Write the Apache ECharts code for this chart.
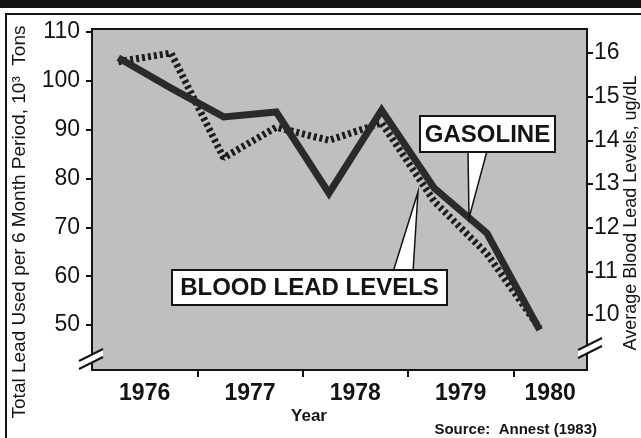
<!DOCTYPE html>
<html>
<head>
<meta charset="utf-8">
<script src="https://cdn.jsdelivr.net/npm/echarts@6/dist/echarts.min.js"></script>
<style>
  html, body { margin: 0; padding: 0; background: #fff; }
  #chart { width: 641px; height: 438px; }
</style>
</head>
<body>
<div id="chart"></div>
<script>
// half-year periods, plotted at the middle of each half
const periods = [1976.25, 1976.75, 1977.25, 1977.75, 1978.25, 1978.75, 1979.25, 1979.75, 1980.25]
// total lead used in gasoline, 10^3 tons per 6 months
const gasoline = [104.7, 98.5, 92.6, 93.6, 77.0, 94.0, 78.0, 68.8, 49.0]
// average blood lead, ug/dL
const bloodLead = [15.8, 16.0, 13.6, 14.3, 14.0, 14.4, 12.6, 11.4, 9.7]

const years = [1976, 1977, 1978, 1979, 1980]
const yearTicks = [1977, 1978, 1979, 1980]
const leadTicks = [50, 60, 70, 80, 90, 100, 110]
const bloodTicks = [10, 11, 12, 13, 14, 15, 16]

const X_MIN = 1976
const X_MAX = 1980.7
const FONT = '"Liberation Sans", Arial, Helvetica, sans-serif'
const INK = '#141414'

// year labels sit in the middle of each year band
const yearLabelPos = years.map(y => (y + Math.min(y + 1, X_MAX)) / 2)

const chart = echarts.init(document.getElementById('chart'))

// small helper for the "//" axis break marks
const breakMark = (x, y) => [
  { type: 'polygon', z: 120, shape: { points: [[x, y + 4], [x + 24, y - 8], [x + 24, y], [x, y + 12]] }, style: { fill: '#fff' } },
  { type: 'line', z: 121, shape: { x1: x, y1: y + 4, x2: x + 24, y2: y - 8 }, style: { stroke: INK, lineWidth: 2 } },
  { type: 'line', z: 121, shape: { x1: x, y1: y + 12, x2: x + 24, y2: y }, style: { stroke: INK, lineWidth: 2 } }
]

const option = {
  animation: false,
  backgroundColor: '#fff',
  grid: {
    left: 92, right: 54, top: 29, bottom: 68,
    containLabel: false,
    outerBoundsMode: 'none',
    show: true,
    backgroundColor: '#bfbfbf',
    borderColor: INK,
    borderWidth: 2
  },
  xAxis: {
    type: 'value',
    min: X_MIN,
    max: X_MAX,
    splitLine: { show: false },
    axisLine: { show: true, onZero: false, lineStyle: { color: INK, width: 2 } },
    axisTick: { show: true, customValues: yearTicks, length: 7, lineStyle: { color: INK, width: 2 } },
    axisLabel: {
      customValues: yearLabelPos,
      formatter: v => String(Math.floor(v)),
      margin: 12,
      color: INK,
      fontFamily: FONT,
      fontSize: 23,
      fontWeight: 'bold'
    }
  },
  yAxis: [
    {
      type: 'value',
      min: 40.8,
      max: 110.6,
      position: 'left',
      splitLine: { show: false },
      axisLine: { show: true, lineStyle: { color: INK, width: 2 } },
      axisTick: { show: true, customValues: leadTicks, length: 6, lineStyle: { color: INK, width: 2 } },
      axisLabel: { customValues: leadTicks, margin: 12, color: INK, fontFamily: FONT, fontSize: 23 }
    },
    {
      type: 'value',
      min: 8.74,
      max: 16.55,
      position: 'right',
      splitLine: { show: false },
      axisLine: { show: true, lineStyle: { color: INK, width: 2 } },
      axisTick: { show: true, customValues: bloodTicks, length: 6, lineStyle: { color: INK, width: 2 } },
      axisLabel: { customValues: bloodTicks, margin: 7, color: INK, fontFamily: FONT, fontSize: 23 }
    }
  ],
  series: [
    {
      name: 'Blood Lead Levels',
      type: 'line',
      yAxisIndex: 1,
      symbol: 'none',
      z: 3,
      data: periods.map((p, i) => [p, bloodLead[i]]),
      lineStyle: { color: '#1c1c1c', width: 7, type: [3, 3], cap: 'butt' }
    },
    {
      name: 'Gasoline',
      type: 'line',
      yAxisIndex: 0,
      symbol: 'none',
      z: 4,
      data: periods.map((p, i) => [p, gasoline[i]]),
      lineStyle: { color: '#2a2a2a', width: 7, join: 'miter' }
    }
  ],
  graphic: [
    // banner strip and page frame of the scanned page
    { type: 'rect', z: 50, shape: { x: 0, y: 0, width: 641, height: 8 }, style: { fill: '#111' } },
    { type: 'polyline', z: 50, shape: { points: [[6, 438], [6, 14], [641, 14]] }, style: { stroke: INK, lineWidth: 2, fill: null } },

    // axis titles
    {
      type: 'text', z: 50, x: 20, y: 222, rotation: Math.PI / 2,
      style: { text: 'Total Lead Used per 6 Month Period, 10³  Tons', font: '19px ' + FONT, fill: INK,
        align: 'center', verticalAlign: 'middle', textAlign: 'center', textVerticalAlign: 'middle' }
    },
    {
      type: 'text', z: 50, x: 631, y: 213, rotation: Math.PI / 2,
      style: { text: 'Average Blood Lead Levels, ug/dL', font: '18px ' + FONT, fill: INK,
        align: 'center', verticalAlign: 'middle', textAlign: 'center', textVerticalAlign: 'middle' }
    },
    {
      type: 'text', z: 50, x: 309, y: 416,
      style: { text: 'Year', font: 'bold 17px ' + FONT, fill: INK,
        align: 'center', verticalAlign: 'middle', textAlign: 'center', textVerticalAlign: 'middle' }
    },
    {
      type: 'text', z: 50, x: 597, y: 430,
      style: { text: 'Source:  Annest (1983)', font: 'bold 15px ' + FONT, fill: INK,
        align: 'right', verticalAlign: 'middle', textAlign: 'right', textVerticalAlign: 'middle' }
    },

    // GASOLINE callout
    { type: 'polygon', z: 100, shape: { points: [[468, 151], [487, 151], [469, 218]] }, style: { fill: '#fff', stroke: INK, lineWidth: 1.5 } },
    { type: 'rect', z: 101, shape: { x: 420, y: 116, width: 135, height: 36 }, style: { fill: '#fff', stroke: INK, lineWidth: 2 } },
    {
      type: 'text', z: 102, x: 487.5, y: 135,
      style: { text: 'GASOLINE', font: 'bold 24px ' + FONT, fill: INK,
        align: 'center', verticalAlign: 'middle', textAlign: 'center', textVerticalAlign: 'middle' }
    },

    // BLOOD LEAD LEVELS callout
    { type: 'polygon', z: 100, shape: { points: [[393, 272], [413, 272], [418, 192]] }, style: { fill: '#fff', stroke: INK, lineWidth: 1.5 } },
    { type: 'rect', z: 101, shape: { x: 172, y: 270, width: 275, height: 35 }, style: { fill: '#fff', stroke: INK, lineWidth: 2 } },
    {
      type: 'text', z: 102, x: 309.5, y: 288,
      style: { text: 'BLOOD LEAD LEVELS', font: 'bold 24px ' + FONT, fill: INK,
        align: 'center', verticalAlign: 'middle', textAlign: 'center', textVerticalAlign: 'middle' }
    },

    // axis breaks
    ...breakMark(79, 357),
    ...breakMark(578, 346)
  ]
}

chart.setOption(option)
</script>
</body>
</html>
